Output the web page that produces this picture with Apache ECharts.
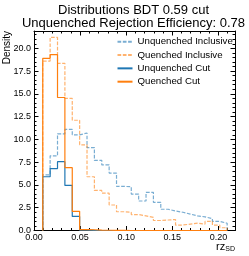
<!DOCTYPE html>
<html><head><meta charset="utf-8">
<script src="https://cdn.jsdelivr.net/npm/echarts@6/dist/echarts.min.js"></script>
<style>html,body{margin:0;padding:0;background:#fff}#c{width:249px;height:256px}</style>
</head><body><div id="c"></div>
<script>
const binEdges = [0.0095, 0.0175, 0.0255, 0.0335, 0.0415, 0.0495, 0.0575, 0.0655, 0.0735, 0.0815, 0.0895, 0.0975, 0.1055, 0.1135, 0.1215, 0.1295, 0.1375, 0.1455, 0.1535, 0.1615, 0.1695, 0.1775, 0.1855, 0.1935, 0.2015, 0.2095];
const unquenchedInclusive = [6.1, 8.2, 10.6, 11.1, 10.5, 10.7, 9.1, 7.7, 7.2, 6.3, 4.85, 4.8, 4.0, 3.24, 4.19, 3.09, 2.33, 2.14, 2.0, 1.8, 1.6, 1.5, 1.3, 1.0, 0.8];
const quenchedInclusive = [18.6, 21.2, 18.35, 14.5, 12.1, 9.4, 5.9, 4.4, 4.1, 2.8, 2.06, 2.0, 1.75, 1.6, 1.45, 1.1, 1.15, 1.2, 0.6, 0.7, 0.8, 0.7, 1.0, 0.6, 0.3];
const unquenchedCut = [5.9, 6.8, 7.55, 4.95, 1.55, 0.05, 0.02, 0, 0, 0, 0, 0, 0, 0, 0, 0, 0, 0, 0, 0, 0, 0, 0, 0, 0];
const quenchedCut = [18.9, 19.3, 14.6, 6.9, 2.1, 0.1, 0.08, 0.05, 0.03, 0.02, 0.01, 0, 0, 0, 0, 0, 0, 0, 0, 0, 0, 0, 0, 0, 0];
const seriesNames = ['Unquenched Inclusive', 'Quenched Inclusive', 'Unquenched Cut', 'Quenched Cut'];
const xTickStep = 0.05;
const yTickStep = 2.5;
const xRange = [0, 0.218];
const yRange = [0, 21.9];
const titleLines = ['Distributions BDT 0.59 cut', 'Unquenched Rejection Efficiency: 0.78'];

const FONT = '"Liberation Sans", Arial, sans-serif';
const BLUE = '#1f77b4', ORANGE = '#ff7f0e';

function stepPoints(edges, vals) {
  const pts = [[edges[0], 0]];
  for (let i = 0; i < vals.length; i++) {
    pts.push([edges[i], vals[i]]);
    pts.push([edges[i + 1], vals[i]]);
  }
  pts.push([edges[edges.length - 1], 0]);
  return pts;
}
function isMult(v, s) { return Math.abs(v / s - Math.round(v / s)) < 1e-6; }

function axisCommon(range, step, showLabel, digits, pos) {
  return {
    type: 'value', min: range[0], max: range[1], interval: step, position: pos,
    axisLine: { show: true, onZero: false, lineStyle: { color: '#000', width: 1 } },
    axisTick: { show: true, inside: true, length: 4.5, lineStyle: { color: '#000', width: 1 } },
    minorTick: { show: true, splitNumber: 5, length: 2.5, lineStyle: { color: '#000', width: 1 } },
    splitLine: { show: false },
    axisLabel: {
      show: showLabel, fontSize: 9, fontFamily: FONT, color: '#000', margin: 3,
      showMaxLabel: false,
      formatter: v => isMult(v, step) ? v.toFixed(digits) : ''
    }
  };
}

const chart = echarts.init(document.getElementById('c'), null, { renderer: 'canvas' });
function mk(name, vals, color, dashed) {
  return {
    name, type: 'line', xAxisIndex: 0, yAxisIndex: 0, symbol: 'none', showSymbol: false,
    data: stepPoints(binEdges, vals), animation: false,
    lineStyle: { color, width: 1.2, type: dashed ? [3.7, 1.6] : 'solid', opacity: dashed ? 0.6 : 1 },
    itemStyle: { color, opacity: dashed ? 0.6 : 1 }
  };
}
chart.setOption({
  animation: false,
  grid: { left: 34, right: 14, top: 31, bottom: 25.5, containLabel: false },
  xAxis: [axisCommon(xRange, xTickStep, true, 2, 'bottom'), axisCommon(xRange, xTickStep, false, 2, 'top')],
  yAxis: [axisCommon(yRange, yTickStep, true, 1, 'left'), axisCommon(yRange, yTickStep, false, 1, 'right')],
  legend: {
    orient: 'vertical', left: 116.5, top: 36.7, padding: 0, itemWidth: 15, itemHeight: 10, itemGap: 3.33,
    itemStyle: { color: 'rgba(0,0,0,0)', borderWidth: 0, opacity: 0 },
    textStyle: { fontSize: 9.7, fontFamily: FONT, color: '#000', lineHeight: 10 },
    data: seriesNames
  },
  series: [
    mk(seriesNames[0], unquenchedInclusive, BLUE, true),
    mk(seriesNames[1], quenchedInclusive, ORANGE, true),
    mk(seriesNames[2], unquenchedCut, BLUE, false),
    mk(seriesNames[3], quenchedCut, ORANGE, false)
  ],
  graphic: [
    { type: 'text', x: 133.5, y: 10.5, style: { text: titleLines[0], font: '13px ' + FONT, fill: '#000', align: 'center', verticalAlign: 'middle' } },
    { type: 'text', x: 133.5, y: 23.8, style: { text: titleLines[1], font: '13px ' + FONT, fill: '#000', align: 'center', verticalAlign: 'middle' } },
    { type: 'text', x: 7, y: 31, rotation: Math.PI / 2, style: { text: 'Density', font: '10px ' + FONT, fill: '#000', align: 'right', verticalAlign: 'middle' } },
    { type: 'text', x: 235, y: 247, style: { text: '{a|rz}{b|SD}', fill: '#000', align: 'right', verticalAlign: 'middle',
        rich: { a: { fontSize: 11, fontFamily: FONT, fill: '#000' }, b: { fontSize: 7, fontFamily: FONT, fill: '#000', padding: [5, 0, 0, 0] } } } }
  ]
});
</script></body></html>
